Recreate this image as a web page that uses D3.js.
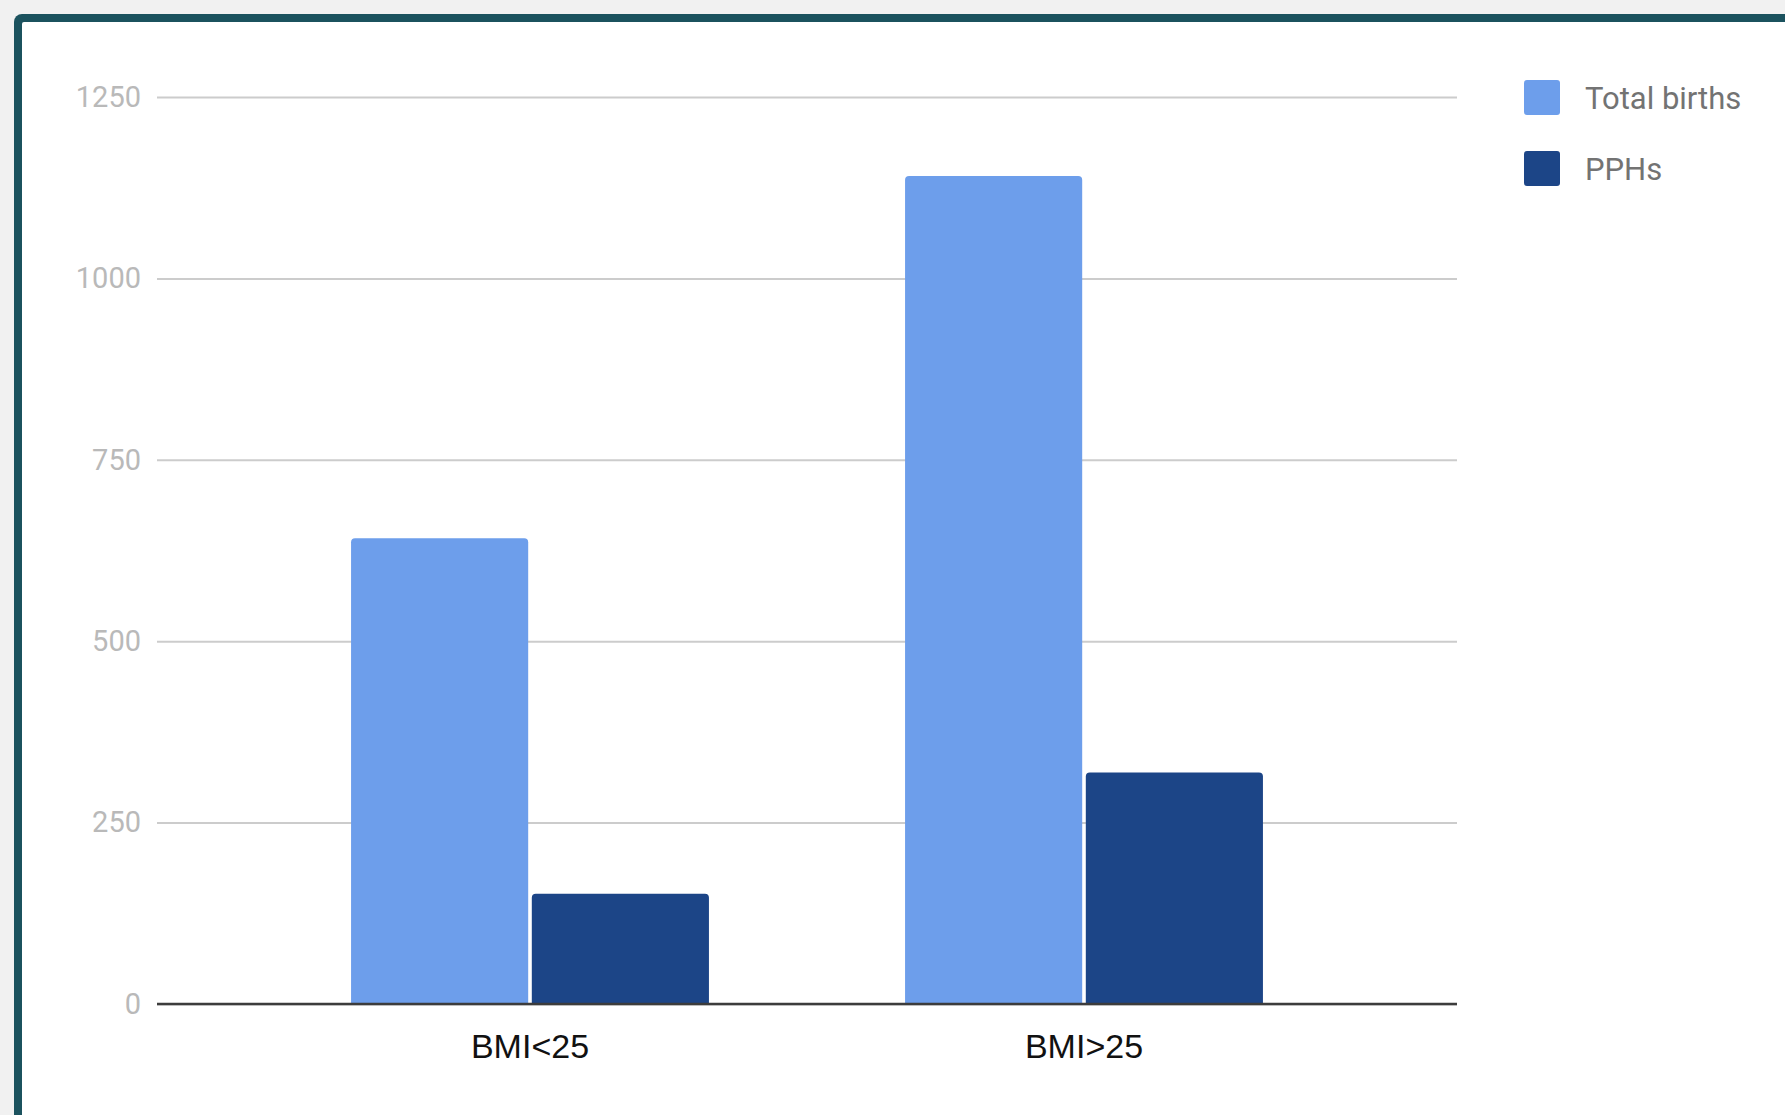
<!DOCTYPE html>
<html>
<head>
<meta charset="utf-8">
<script src="https://cdn.jsdelivr.net/npm/d3@7"></script>
<style>
    html, body { margin: 0; padding: 0; background: #f1f1f1; overflow: hidden; }
    svg { display: block; }
</style>
</head>
<body>
<svg id="chart" width="1785" height="1115"></svg>
<script>
var categories = [ "BMI<25", "BMI>25" ];
var seriesNames = [ "Total births", "PPHs" ];
var totalBirths = [ 642, 1141 ];
var pphs = [ 152, 319 ];
var yTicks = [ 0, 250, 500, 750, 1000, 1250 ];
var colors = [ "#6d9eeb", "#1c4587" ];

(function () {
    var svg = d3.select( "#chart" );
    var W = 1785, H = 1115;

    // card frame, cut off at the right and bottom
    svg.append( "rect" )
        .attr( "x", 14 ).attr( "y", 14 )
        .attr( "width", W ).attr( "height", H )
        .attr( "rx", 8 )
        .attr( "fill", "#1b525e" );
    svg.append( "rect" )
        .attr( "x", 22 ).attr( "y", 22 )
        .attr( "width", W ).attr( "height", H )
        .attr( "rx", 2 )
        .attr( "fill", "#ffffff" );

    var left = 157, right = 1457, top = 97, bottom = 1004;

    var y = d3.scaleLinear()
        .domain( [ 0, 1250 ] )
        .range( [ bottom, top ] );

    var x0 = d3.scaleBand()
        .domain( categories )
        .range( [ 253, 1361 ] )
        .paddingInner( 0.354 )
        .paddingOuter( 0.177 );

    var x1 = d3.scaleBand()
        .domain( seriesNames )
        .range( [ 0, x0.bandwidth() ] )
        .paddingInner( 0.02 );

    // gridlines + y labels
    var yAxis = d3.axisLeft( y )
        .tickValues( yTicks )
        .tickFormat( d3.format( "d" ) )
        .tickSize( -( right - left ) )
        .tickPadding( 16 );
    var gy = svg.append( "g" )
        .attr( "transform", "translate(" + left + ",0)" )
        .call( yAxis );
    gy.select( ".domain" ).remove();
    gy.selectAll( ".tick line" )
        .attr( "stroke", "#cccccc" )
        .attr( "stroke-width", 2 );
    gy.selectAll( ".tick text" )
        .attr( "fill", "#b9b9b9" )
        .style( "font-family", "Roboto, sans-serif" )
        .style( "font-size", "29px" );

    var rows = categories.map( function ( c, i ) {
        return { cat: c, values: [ totalBirths[ i ], pphs[ i ] ] };
    });

    function barPath ( bx, by, bw, bh, r ) {
        return "M" + bx + "," + ( by + bh ) +
            "V" + ( by + r ) +
            "Q" + bx + "," + by + " " + ( bx + r ) + "," + by +
            "H" + ( bx + bw - r ) +
            "Q" + ( bx + bw ) + "," + by + " " + ( bx + bw ) + "," + ( by + r ) +
            "V" + ( by + bh ) + "Z";
    }

    var groups = svg.append( "g" )
        .selectAll( "g" )
        .data( rows )
        .enter().append( "g" )
        .attr( "transform", function ( d ) {
            return "translate(" + x0( d.cat ) + ",0)";
        });

    groups.selectAll( "path" )
        .data( function ( d ) {
            return d.values.map( function ( v, j ) {
                return { key: seriesNames[ j ], value: v, c: colors[ j ] };
            });
        })
        .enter().append( "path" )
        .attr( "d", function ( d ) {
            return barPath( x1( d.key ), y( d.value ), x1.bandwidth(), bottom - y( d.value ), 4 );
        })
        .attr( "fill", function ( d ) { return d.c } );

    // baseline
    svg.append( "line" )
        .attr( "x1", left ).attr( "x2", right )
        .attr( "y1", bottom ).attr( "y2", bottom )
        .attr( "stroke", "#3c3c3c" )
        .attr( "stroke-width", 2.5 );

    // category labels
    var xAxis = d3.axisBottom( x0 ).tickSize( 0 ).tickPadding( 30 );
    var gx = svg.append( "g" )
        .attr( "transform", "translate(0," + bottom + ")" )
        .call( xAxis );
    gx.select( ".domain" ).remove();
    gx.selectAll( ".tick text" )
        .attr( "fill", "#111111" )
        .style( "font-family", "'Liberation Sans', Arial, sans-serif" )
        .style( "font-size", "34px" );

    // legend
    var legend = svg.append( "g" )
        .selectAll( "g" )
        .data( seriesNames )
        .enter().append( "g" )
        .attr( "transform", function ( d, i ) {
            return "translate(1524," + ( 80 + i * 71 ) + ")";
        });
    legend.append( "rect" )
        .attr( "width", 36 ).attr( "height", 35 )
        .attr( "rx", 3 )
        .attr( "fill", function ( d, i ) { return colors[ i ] } );
    legend.append( "text" )
        .attr( "x", 61 ).attr( "y", 18 )
        .attr( "dy", "0.35em" )
        .attr( "fill", "#737373" )
        .style( "font-family", "Roboto, sans-serif" )
        .style( "font-size", "31px" )
        .text( function ( d ) { return d } );
})();
</script>
</body>
</html>
